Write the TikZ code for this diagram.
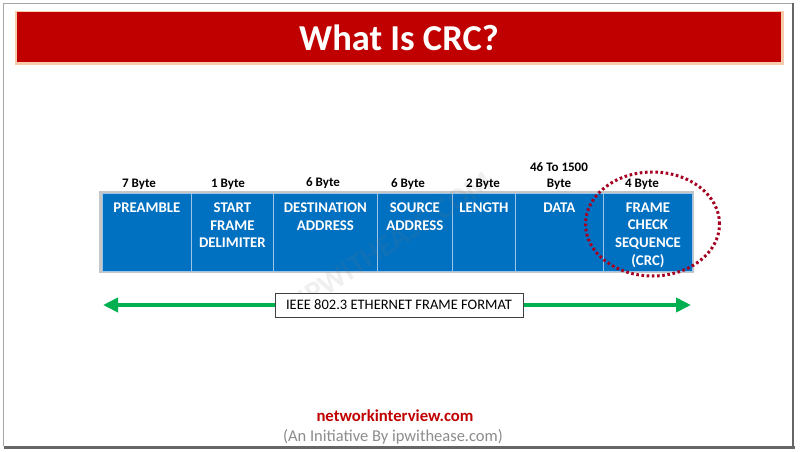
\documentclass[tikz,border=0pt]{standalone}
\usepackage{fontspec}
\setmainfont{Carlito}
\usetikzlibrary{arrows.meta,shapes.geometric}
\definecolor{titlered}{HTML}{C00000}
\definecolor{glow}{HTML}{F8CBAD}
\definecolor{frameblue}{HTML}{0070C0}
\definecolor{divline}{HTML}{9DC3E6}
\definecolor{arrowgreen}{HTML}{00B050}
\definecolor{ringred}{HTML}{A50021}
\definecolor{footgrey}{HTML}{8C8C8C}
\tikzset{
  cellbox/.style={draw=divline, line width=0.8pt, fill=frameblue, minimum height=78pt, inner sep=0pt, anchor=north west},
  celltext/.style={text=white, font=\bfseries\fontsize{14.8}{17.7}\selectfont, align=center, anchor=north, inner sep=0pt},
  bytetext/.style={font=\bfseries\fontsize{13}{16}\selectfont, align=center, anchor=base, inner sep=0pt},
}
\begin{document}
\begin{tikzpicture}[x=1pt,y=-1pt]
\useasboundingbox (0,0) rectangle (800,452);
\fill[white] (0,0) rectangle (800,452);
% outer frame
\draw[gray!70, line width=1.2pt] (3.5,3.5) -- (3.5,446) ;
\draw[gray!70, line width=1.2pt] (3.5,3.5) -- (793,3.5);
\draw[gray!80!black, line width=2.5pt] (793,3.5) -- (793,447);
\draw[gray!80!black, line width=3pt] (3.5,447.5) -- (794.5,447.5);
% title bar
\node[fill=glow, minimum width=769pt, minimum height=54pt, inner sep=0pt] (glowbar) at (399.5,38) {};
\node[fill=titlered, minimum width=764pt, minimum height=50pt, inner sep=0pt, text=white,
      font=\bfseries\fontsize{36.5}{40}\selectfont] (title) at (399,37.5) {What Is CRC?};
% frame cells
\fill[gray!45] (99,191) rectangle (694,273);
\node[cellbox, minimum width=89pt] (c1) at (102,193) {};
\node[cellbox, minimum width=82pt] (c2) at (191,193) {};
\node[cellbox, minimum width=104pt] (c3) at (273,193) {};
\node[cellbox, minimum width=75pt] (c4) at (377,193) {};
\node[cellbox, minimum width=63pt] (c5) at (452,193) {};
\node[cellbox, minimum width=88pt] (c6) at (515,193) {};
\node[cellbox, minimum width=89pt] (c7) at (603,193) {};
% watermark
\node[text=gray, opacity=0.12, rotate=33, font=\bfseries\fontsize{30}{34}\selectfont] (wm) at (395,240) {IPWITHEASE.COM};
% cell texts
\node[celltext] (t1) at ([yshift=-9.5pt]c1.north) {PREAMBLE};
\node[celltext] (t2) at ([yshift=-9.5pt]c2.north) {START\\FRAME\\DELIMITER};
\node[celltext] (t3) at ([yshift=-9.5pt]c3.north) {DESTINATION\\ADDRESS};
\node[celltext] (t4) at ([yshift=-9.5pt]c4.north) {SOURCE\\ADDRESS};
\node[celltext] (t5) at ([yshift=-9.5pt]c5.north) {LENGTH};
\node[celltext] (t6) at ([yshift=-9.5pt]c6.north) {DATA};
\node[celltext] (t7) at ([yshift=-9.5pt]c7.north) {FRAME\\CHECK\\SEQUENCE\\(CRC)};
% byte labels
\node[bytetext] (b1) at (139,187.5) {7 Byte};
\node[bytetext] (b2) at (228,187.5) {1 Byte};
\node[bytetext] (b3) at (323,186) {6 Byte};
\node[bytetext] (b4) at (408,187.5) {6 Byte};
\node[bytetext] (b5) at (483,187.5) {2 Byte};
\node[bytetext] (b6a) at (559,171) {46 To 1500};
\node[bytetext] (b6b) at (559,187.5) {Byte};
\node[bytetext] (b7) at (642,187.5) {4 Byte};
% CRC ring
\node[ellipse, draw=ringred, line width=3pt, dash pattern=on 2.6pt off 2.6pt,
      minimum width=134pt, minimum height=104pt, inner sep=0pt] (ring) at (652.5,224) {};
% green arrow with label
\coordinate (al) at (103,305);
\coordinate (ar) at (691,305);
\draw[arrowgreen, line width=4pt, {Triangle[length=15pt,width=14pt]}-{Triangle[length=15pt,width=14pt]}] (al) -- (ar);
\node[draw=black!75, line width=0.6pt, fill=white, minimum width=248pt, minimum height=24pt, inner sep=0pt,
      font=\fontsize{14.5}{17}\selectfont] (fmt) at (399,305) {IEEE 802.3 ETHERNET FRAME FORMAT};
% footer
\node[text=titlered, font=\bfseries\fontsize{16.7}{19}\selectfont, anchor=base] (site) at (395,421) {networkinterview.com};
\node[text=footgrey, font=\fontsize{16.5}{19}\selectfont, anchor=base] (init) at (393,441) {(An Initiative By ipwithease.com)};
\end{tikzpicture}
\end{document}
